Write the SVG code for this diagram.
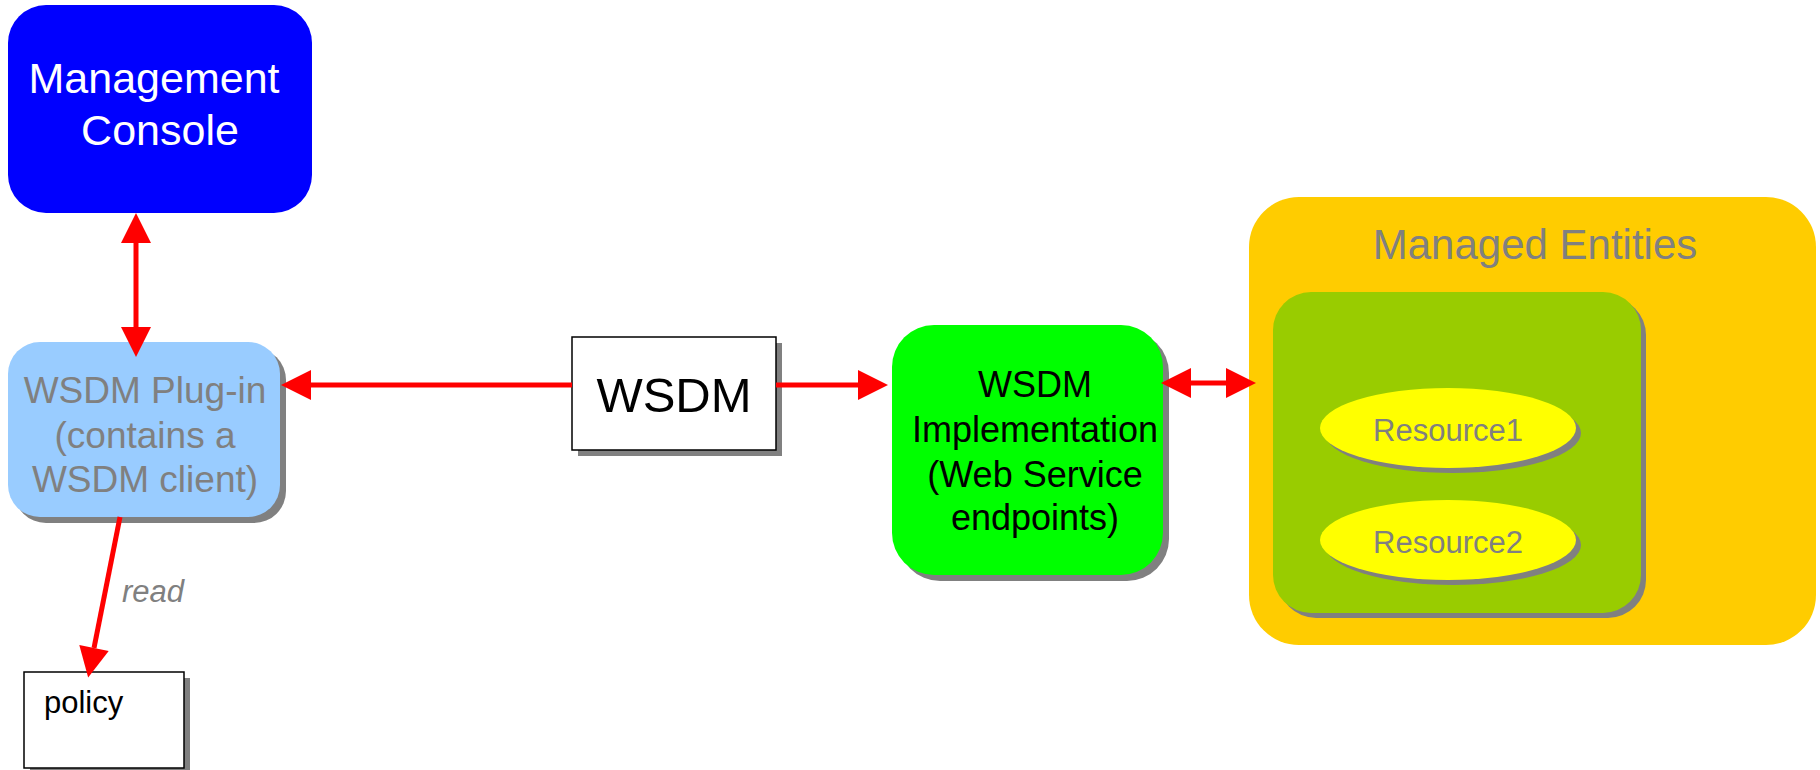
<svg xmlns="http://www.w3.org/2000/svg" width="1820" height="770" viewBox="0 0 1820 770">
  <style>
    text { font-family: "Liberation Sans", Arial, sans-serif; text-anchor: middle; }
    .shadow { fill: #808080; }
    .link { stroke: #FF0000; stroke-width: 5; fill: none; }
    .grey { fill: #808080; }
  </style>
  <defs>
    <marker id="head" markerUnits="userSpaceOnUse" markerWidth="30" markerHeight="30" refX="0" refY="15" orient="auto-start-reverse" overflow="visible">
      <path d="M0,0 L30,15 L0,30 Z" fill="#FF0000"/>
    </marker>
  </defs>

  <rect width="1820" height="770" fill="#FFFFFF"/>

  <!-- Management Console -->
  <g id="console">
    <rect x="8" y="5" width="304" height="208" rx="38" fill="#0000FF"/>
    <text x="154" y="93" font-size="43" fill="#FFFFFF">Management</text>
    <text x="160" y="145" font-size="43" fill="#FFFFFF">Console</text>
  </g>

  <!-- WSDM Plug-in -->
  <g id="plugin">
    <rect x="14" y="348" width="272" height="175" rx="32" class="shadow"/>
    <rect x="8" y="342" width="272" height="175" rx="32" fill="#99CCFF"/>
    <text x="145" y="403" font-size="37" class="grey">WSDM Plug-in</text>
    <text x="145" y="448" font-size="37" class="grey">(contains a</text>
    <text x="145" y="492" font-size="37" class="grey">WSDM client)</text>
  </g>

  <!-- policy file -->
  <g id="policy">
    <rect x="30" y="678" width="160" height="96" class="shadow"/>
    <rect x="24" y="672" width="160" height="96" fill="#FFFFFF" stroke="#000000" stroke-width="1.5"/>
    <text x="44" y="713" font-size="31" fill="#000000" style="text-anchor:start">policy</text>
  </g>

  <!-- WSDM protocol box -->
  <g id="wsdm">
    <rect x="578" y="343" width="204" height="113" class="shadow"/>
    <rect x="572" y="337" width="204" height="113" fill="#FFFFFF" stroke="#000000" stroke-width="1.5"/>
    <text x="674" y="412" font-size="49" fill="#000000">WSDM</text>
  </g>

  <!-- WSDM Implementation -->
  <g id="implementation">
    <rect x="898" y="331" width="271" height="250" rx="42" class="shadow"/>
    <rect x="892" y="325" width="271" height="250" rx="42" fill="#00FF00"/>
    <text x="1035" y="397" font-size="36" fill="#000000">WSDM</text>
    <text x="1035" y="442" font-size="36" fill="#000000">Implementation</text>
    <text x="1035" y="487" font-size="36" fill="#000000">(Web Service</text>
    <text x="1035" y="530" font-size="36" fill="#000000">endpoints)</text>
  </g>

  <!-- Managed Entities container -->
  <g id="managed-entities">
    <rect x="1249" y="197" width="567" height="448" rx="50" fill="#FFCC00"/>
    <text x="1535" y="259" font-size="42" class="grey">Managed Entities</text>
  </g>

  <g id="resource-group">
    <rect x="1278" y="297" width="368" height="321" rx="38" class="shadow"/>
    <rect x="1273" y="292" width="368" height="321" rx="38" fill="#99CC00"/>
  </g>

  <g id="resource1">
    <ellipse cx="1453" cy="433" rx="128" ry="40" class="shadow"/>
    <ellipse cx="1448" cy="428" rx="128" ry="40" fill="#FFFF00"/>
    <text x="1448" y="441" font-size="31" class="grey">Resource1</text>
  </g>

  <g id="resource2">
    <ellipse cx="1453" cy="545" rx="128" ry="40" class="shadow"/>
    <ellipse cx="1448" cy="540" rx="128" ry="40" fill="#FFFF00"/>
    <text x="1448" y="553" font-size="31" class="grey">Resource2</text>
  </g>

  <!-- Connectors -->
  <g id="connectors">
    <line class="link" x1="136" y1="243" x2="136" y2="327" marker-start="url(#head)" marker-end="url(#head)"/>
    <line class="link" x1="572" y1="385" x2="311" y2="385" marker-end="url(#head)"/>
    <line class="link" x1="776" y1="385" x2="858" y2="385" marker-end="url(#head)"/>
    <line class="link" x1="1191" y1="383" x2="1226" y2="383" marker-start="url(#head)" marker-end="url(#head)"/>
    <line class="link" x1="120" y1="517" x2="94" y2="648" marker-end="url(#head)"/>
    <text x="153" y="602" font-size="31" font-style="italic" class="grey">read</text>
  </g>
</svg>
